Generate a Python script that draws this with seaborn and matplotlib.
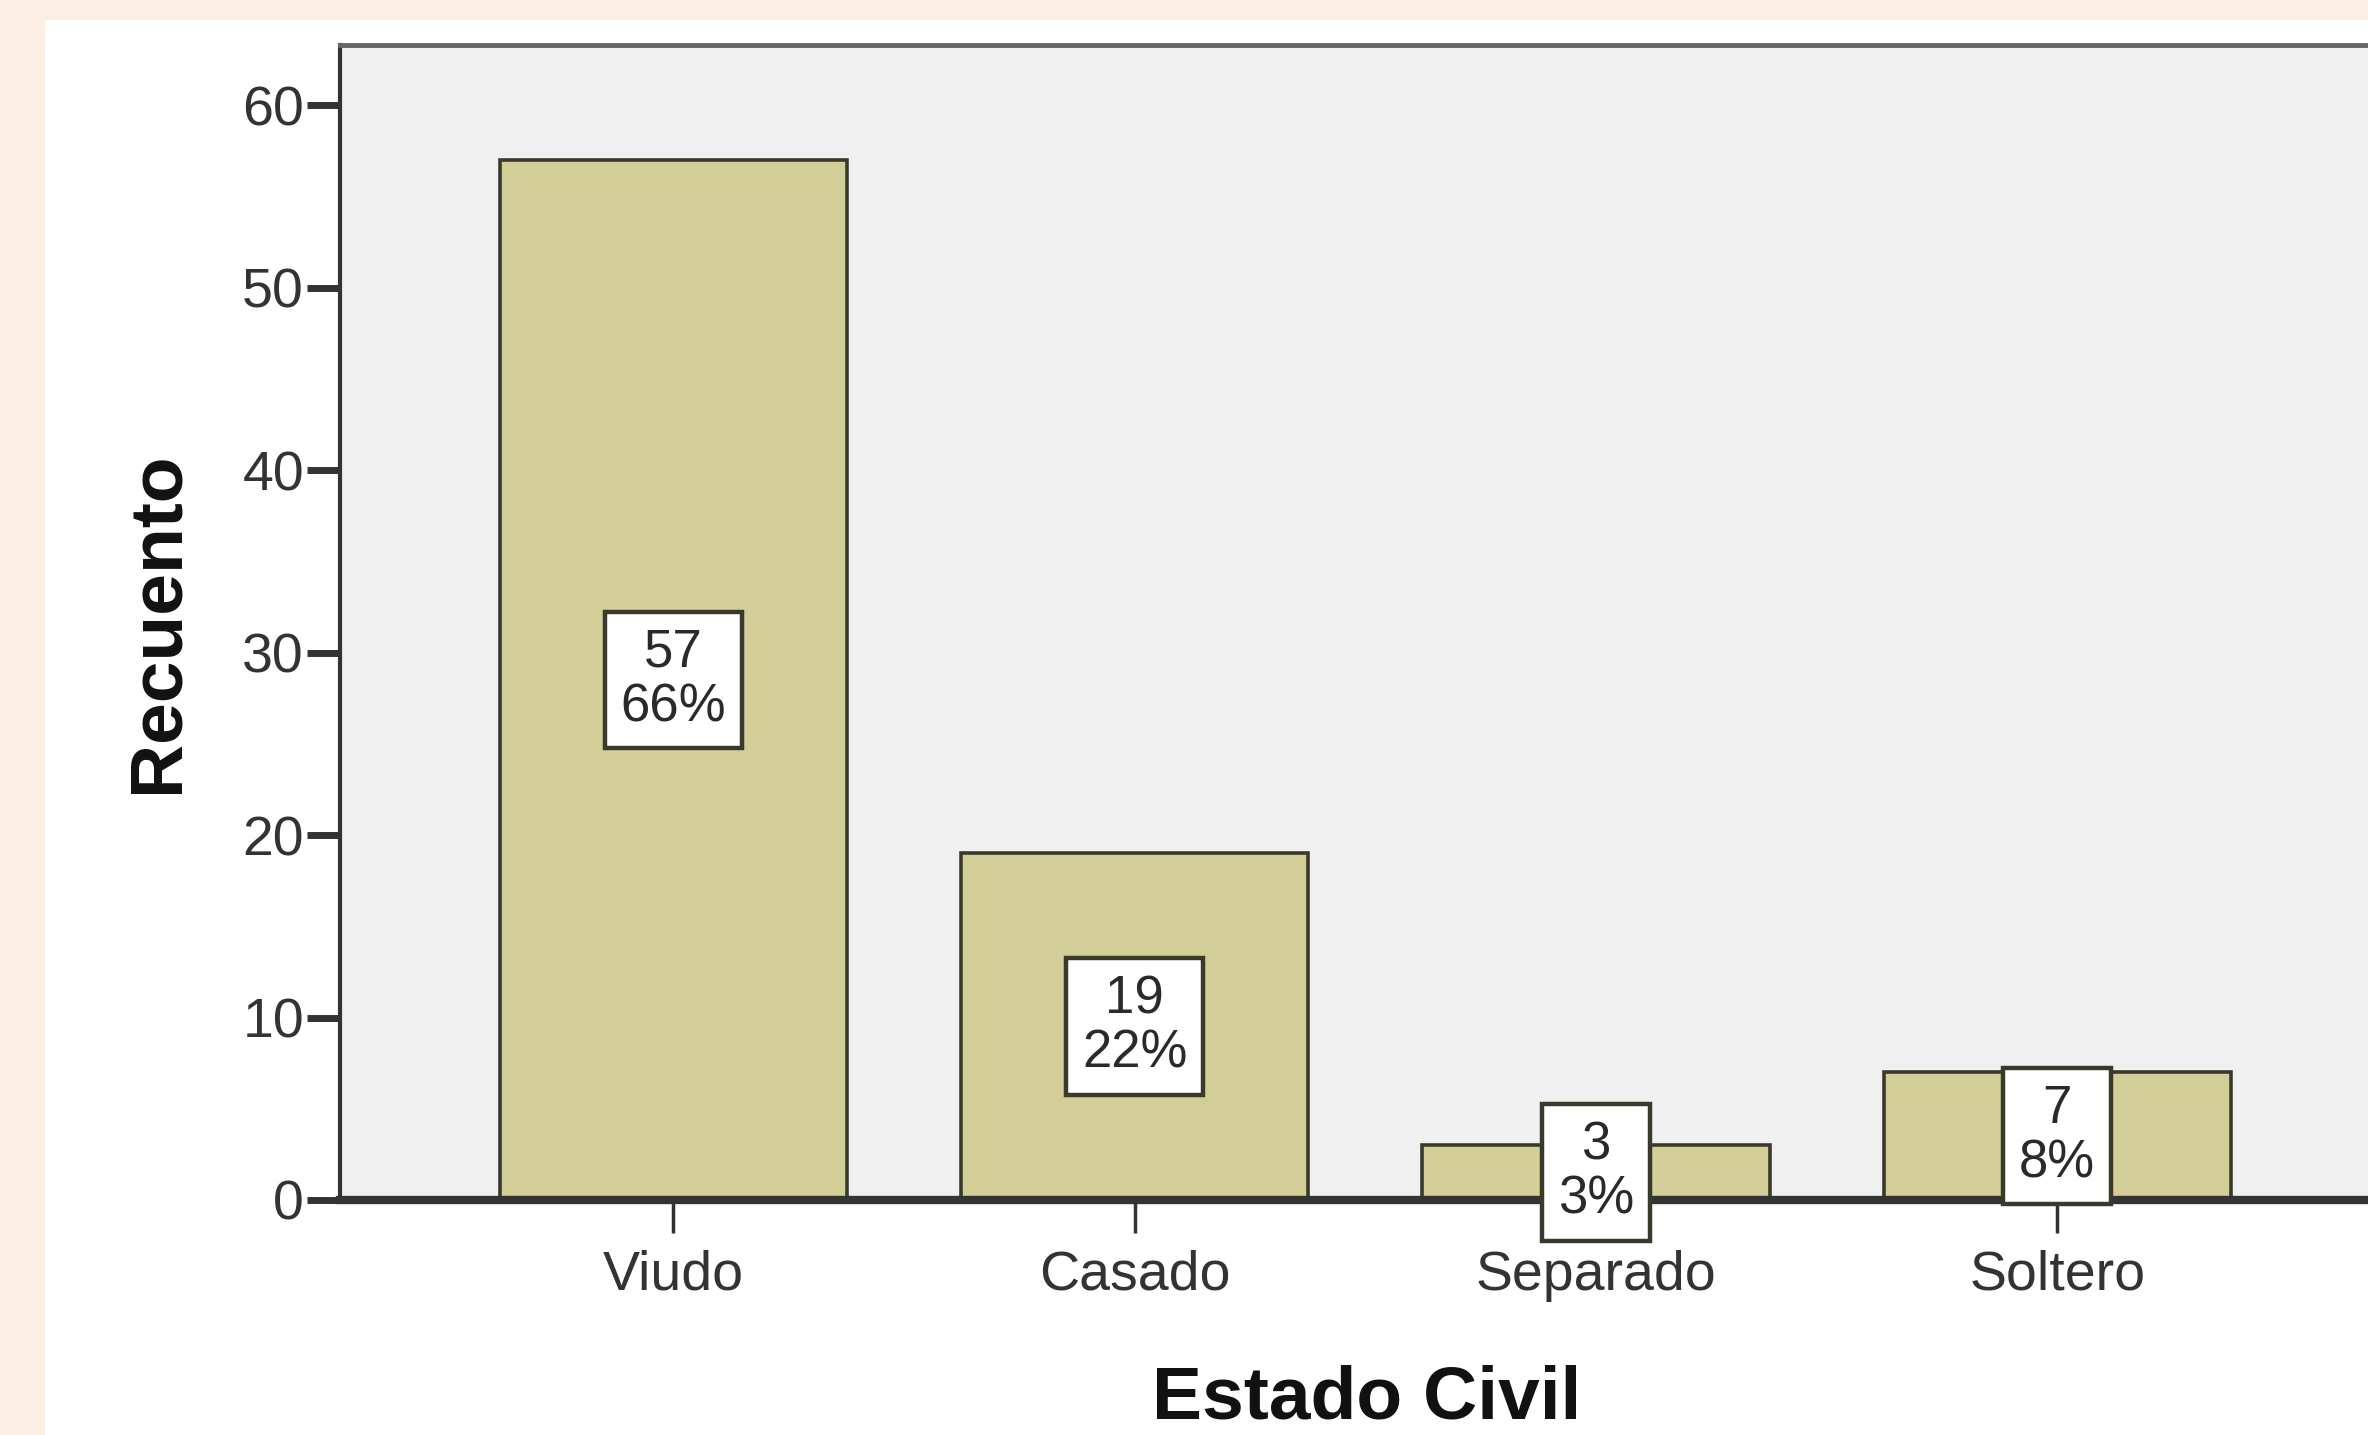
import matplotlib
matplotlib.use('Agg')
import matplotlib.pyplot as plt
import seaborn as sns
import pandas as pd
from matplotlib.patches import Rectangle

# data
categories = ['Viudo', 'Casado', 'Separado', 'Soltero']
counts = [57, 19, 3, 7]
percent_labels = ['66%', '22%', '3%', '8%']

sns.set_theme(style='white')
plt.rcParams['font.family'] = ['Liberation Sans', 'DejaVu Sans']

df = pd.DataFrame({'estado': categories, 'recuento': counts})

fig = plt.figure(figsize=(23.68, 14.35), dpi=100, facecolor='#FDEEE3')
# white panel inside the peach border (drawn behind the axes)
fig.patches.append(Rectangle((45 / 2368, 0), 1, 1 - 20 / 1435, transform=fig.transFigure,
                             facecolor='white', edgecolor='none', zorder=-5))

# the plot area runs a little past the right edge of the picture (cropped look)
ax = fig.add_axes([340 / 2368, 1 - 1200 / 1435, (2393 - 340) / 2368, (1200 - 45) / 1435])
ax.set_facecolor('#F0F0F0')

sns.barplot(data=df, x='estado', y='recuento', color='#D3CE98', width=0.753,
            edgecolor='#3A3A2C', linewidth=2.6, saturation=1, ax=ax, zorder=2)

ax.set_xlim(-0.723, 3.728)
ax.set_ylim(0, 63.3)
ax.set_yticks([0, 10, 20, 30, 40, 50, 60])

# count / percent boxes at the middle of each bar
for i, (c, p) in enumerate(zip(counts, percent_labels)):
    ax.text(i, c / 2, f'{c}\n{p}', ha='center', va='center', fontsize=38,
            color='#2A2A2A', linespacing=1.12, zorder=5, clip_on=False,
            bbox=dict(boxstyle='square,pad=0.3', facecolor='white',
                      edgecolor='#3A3A2C', linewidth=3.2))

for side in ['top', 'left', 'bottom']:
    ax.spines[side].set_visible(True)
ax.spines['right'].set_visible(False)
ax.spines['top'].set_color('#666666')
ax.spines['top'].set_linewidth(3.5)
ax.spines['left'].set_color('#333333')
ax.spines['left'].set_linewidth(3)
ax.spines['bottom'].set_color('#333333')
ax.spines['bottom'].set_linewidth(6)
ax.spines['bottom'].set_zorder(3)

ax.tick_params(axis='y', direction='out', length=24, width=5, color='#333333',
               labelsize=40, labelcolor='#333333', pad=2, left=True)
ax.tick_params(axis='x', direction='out', length=24, width=2.5, color='#333333',
               labelsize=40, labelcolor='#333333', pad=12, bottom=True)

ax.set_xlabel('Estado Civil', fontsize=54, fontweight='bold', color='#111111', labelpad=45)
ax.set_ylabel('Recuento', fontsize=54, fontweight='bold', color='#111111', labelpad=36)

plt.savefig('out.png', dpi=100, facecolor=fig.get_facecolor())
plt.close()
